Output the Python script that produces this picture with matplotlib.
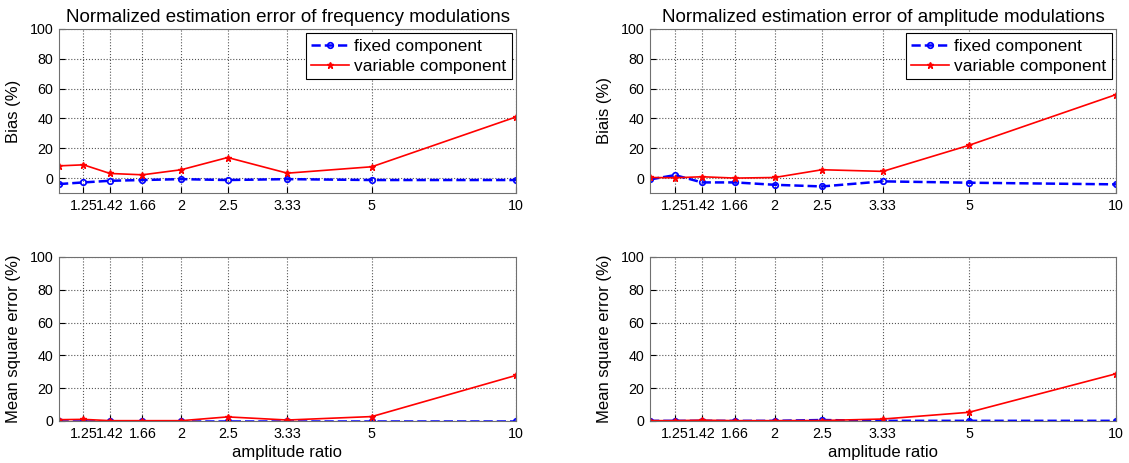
import matplotlib.pyplot as plt
from matplotlib.ticker import NullLocator

plt.rcParams['font.family'] = ['Liberation Sans', 'DejaVu Sans']
plt.rcParams['font.size'] = 11

# amplitude ratio = 10/k, k = 9..1
ratio = [10/9, 1.25, 1.42, 1.66, 2, 2.5, 3.33, 5, 10]
tick_pos = [1.25, 1.42, 1.66, 2, 2.5, 3.33, 5, 10]
tick_labels = ['1.25', '1.42', '1.66', '2', '2.5', '3.33', '5', '10']

fm_bias_fixed = [-4.0, -2.9, -1.8, -1.3, -0.7, -1.3, -0.7, -1.3, -1.3]
fm_bias_var = [8.2, 8.9, 3.1, 2.2, 5.6, 13.8, 3.3, 7.6, 41.0]
fm_mse_fixed = [0.1, 0.1, 0.1, 0.1, 0.1, 0.1, 0.1, 0.1, 0.1]
fm_mse_var = [0.8, 1.0, 0.2, 0.2, 0.2, 2.5, 0.6, 2.7, 27.8]

am_bias_fixed = [-0.9, 2.0, -2.9, -2.9, -4.5, -5.6, -2.2, -3.1, -4.2]
am_bias_var = [0.4, 0.2, 0.9, 0.0, 0.4, 5.6, 4.5, 22.0, 56.0]
am_mse_fixed = [0.1, 0.1, 0.1, 0.1, 0.1, 0.6, 0.1, 0.1, 0.1]
am_mse_var = [0.2, 0.2, 0.5, 0.2, 0.2, 0.3, 1.2, 5.3, 28.8]

W, H = 1129, 463
fig = plt.figure(figsize=(W/100, H/100), dpi=100)


def make_ax(x0, x1, y0, y1):
    return fig.add_axes([x0/W, 1 - y1/H, (x1-x0)/W, (y1-y0)/H])


def style(ax, ylo):
    ax.set_xscale('log')
    ax.set_xlim(10/9, 10)
    ax.set_ylim(ylo, 100)
    ax.set_xticks(tick_pos)
    ax.set_xticklabels(tick_labels)
    ax.xaxis.set_minor_locator(NullLocator())
    ax.set_yticks([0, 20, 40, 60, 80, 100])
    ax.grid(True, linestyle=':', color='#555555', linewidth=0.8)
    ax.tick_params(direction='in', length=4, colors='#000000', labelsize=10.3, pad=4)
    for s in ax.spines.values():
        s.set_color('#707070')


def draw(ax, fixed, var):
    ax.plot(ratio, fixed, '--o', color='#0000ff', lw=1.8, ms=4, mfc='none', mew=1.2,
            label='fixed component')
    ax.plot(ratio, var, '-*', color='#ff0000', lw=1.2, ms=5, label='variable component')


ax1 = make_ax(59, 516, 29, 193)
ax2 = make_ax(650, 1116, 29, 193)
ax3 = make_ax(59, 516, 257, 421)
ax4 = make_ax(650, 1116, 257, 421)

draw(ax1, fm_bias_fixed, fm_bias_var)
draw(ax2, am_bias_fixed, am_bias_var)
draw(ax3, fm_mse_fixed, fm_mse_var)
draw(ax4, am_mse_fixed, am_mse_var)

style(ax1, -10)
style(ax2, -10)
style(ax3, 0)
style(ax4, 0)

ax1.set_title('Normalized estimation error of frequency modulations', fontsize=13.5, pad=5)
ax2.set_title('Normalized estimation error of amplitude modulations', fontsize=13.5, pad=5)
ax1.set_ylabel('Bias (%)', fontsize=12, labelpad=6)
ax2.set_ylabel('Biais (%)', fontsize=12, labelpad=6)
ax3.set_ylabel('Mean square error (%)', fontsize=12, labelpad=6)
ax4.set_ylabel('Mean square error (%)', fontsize=12, labelpad=6)
ax3.set_xlabel('amplitude ratio', fontsize=12, labelpad=3)
ax4.set_xlabel('amplitude ratio', fontsize=12, labelpad=3)

for ax in (ax1, ax2):
    leg = ax.legend(loc='upper right', fontsize=12.5, fancybox=False, framealpha=1,
                    borderaxespad=0.25, handlelength=2.2, handletextpad=0.3,
                    borderpad=0.3, labelspacing=0.3)
    leg.get_frame().set_edgecolor('#000000')
    leg.get_frame().set_linewidth(0.8)

plt.savefig('out.png', dpi=100)
